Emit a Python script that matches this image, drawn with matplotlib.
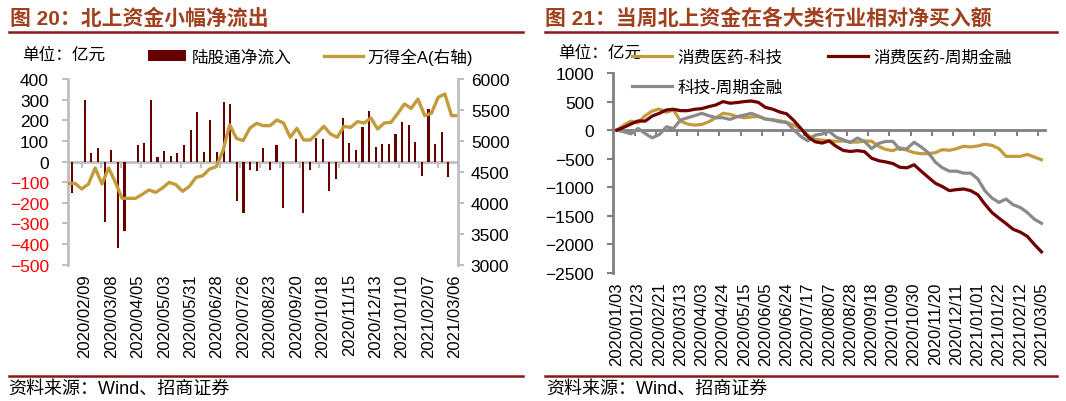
import matplotlib
matplotlib.use("Agg")
import matplotlib.pyplot as plt
from matplotlib.lines import Line2D
from matplotlib.patches import Patch

plt.rcParams['font.family'] = ['Liberation Sans', 'Noto Sans CJK SC']

# ---- 图20: 陆股通周度净流入(亿元) & 万得全A ----
flow_labels = ['2020/02/09', '2020/03/08', '2020/04/05', '2020/05/03', '2020/05/31',
               '2020/06/28', '2020/07/26', '2020/08/23', '2020/09/20', '2020/10/18',
               '2020/11/15', '2020/12/13', '2021/01/10', '2021/02/07', '2021/03/06']
north_flow = [-154, 0, 300, 42, 66, -291, 57, -418, -335, 0,
              81, 90, 300, 23, 52, 28, 42, 81, 154, 241,
              47, 202, 47, 290, 280, -189, -248, -39, -44, 66,
              -39, 81, -223, 0, 110, -248, -39, 115, 110, -141,
              -83, 212, 90, 57, 168, 246, 71, 86, 86, 134,
              193, 178, 96, -68, 256, 86, 144, -73, 0]
wind_all_a = [4314, 4314, 4223, 4304, 4562, 4304, 4562, 4330, 4072, 4072,
              4072, 4137, 4207, 4169, 4239, 4330, 4293, 4185, 4266, 4411,
              4438, 4546, 4584, 4842, 5262, 5041, 5004, 5205, 5284, 5246,
              5246, 5338, 5289, 5058, 5203, 5015, 5015, 5122, 5235, 5111,
              5058, 5235, 5219, 5311, 5289, 5370, 5192, 5289, 5300, 5445,
              5596, 5526, 5677, 5408, 5445, 5704, 5758, 5408, 5408]

# ---- 图21: 当周北上资金在各大类行业相对净买入额(累计, 亿元) ----
sector_labels = ['2020/01/03', '2020/01/23', '2020/02/21', '2020/03/13', '2020/04/03',
                 '2020/04/24', '2020/05/15', '2020/06/05', '2020/06/24', '2020/07/17',
                 '2020/08/07', '2020/08/28', '2020/09/18', '2020/10/09', '2020/10/30',
                 '2020/11/20', '2020/12/11', '2021/01/01', '2021/01/22', '2021/02/12',
                 '2021/03/05']
cons_minus_tech = [0, 88, 158, 129, 253, 335, 370, 312, 353, 159,
                   106, 88, 100, 147, 218, 294, 276, 235, 218, 230,
                   238, 194, 183, 165, 136, 89, 18, -88, -158, -175,
                   -185, -195, -190, -205, -210, -190, -195, -285, -338, -360,
                   -306, -353, -394, -412, -412, -394, -341, -353, -324, -282,
                   -294, -277, -247, -265, -324, -459, -459, -459, -424, -471,
                   -518]
cons_minus_cyc = [0, 50, 108, 161, 158, 247, 294, 353, 365, 341,
                  341, 365, 377, 412, 441, 500, 471, 483, 500, 510,
                  486, 398, 368, 318, 285, 170, 30, -115, -203, -226,
                  -188, -285, -356, -373, -359, -376, -491, -535, -556, -585,
                  -650, -659, -606, -718, -824, -929, -988, -1059, -1041, -1030,
                  -1059, -1130, -1294, -1441, -1541, -1635, -1735, -1783, -1859, -2000,
                  -2130]
tech_minus_cyc = [0, -29, -65, 29, -59, -135, -77, 59, 29, 176,
                  217, 253, 294, 253, 217, 217, 188, 235, 264, 294,
                  247, 194, 177, 147, 136, 6, -112, -188, -88, -68,
                  -20, -124, -168, -218, -138, -200, -323, -232, -197, -197,
                  -338, -324, -212, -294, -394, -559, -659, -718, -718, -753,
                  -753, -853, -1059, -1188, -1265, -1206, -1306, -1353, -1441, -1559,
                  -1630]

bar_color = '#660000'
gold = '#C49B3B'
maroon = '#700000'
grey_line = '#8A8A8A'
title_color = '#A0401E'
rule_color = '#8C1515'
W, H = 1066, 402


def fx(px):
    return px / W


def fy(py):
    return 1 - py / H


fig = plt.figure(figsize=(W / 100, H / 100), dpi=100)

# ================= 左图 =================
axis_grey = '#BFBFBF'
rect = [fx(68.3), fy(265.7), fx(458.3) - fx(68.3), fy(80) - fy(265.7)]
ax = fig.add_axes(rect)
n = len(north_flow)
ax.bar(range(n), north_flow, width=0.32, color=bar_color)
ax.set_xlim(-0.5, n - 0.5)
ax.set_ylim(-500, 400)
ax.set_yticks(range(-500, 401, 100))
for s in ['top', 'right', 'bottom']:
    ax.spines[s].set_visible(False)
ax.spines['left'].set_color(axis_grey)
ax.spines['left'].set_linewidth(2)
ax.tick_params(axis='y', length=4, width=1.5, color=axis_grey, pad=10, labelsize=12.5)
for val, lab in zip(ax.get_yticks(), ax.get_yticklabels()):
    if val < 0:
        lab.set_color('#FF0000')
ax.set_xticks(range(2, n, 4))
ax.set_xticklabels(flow_labels, rotation=90, fontsize=12)
ax.tick_params(axis='x', length=0, pad=6)

# 零轴及其刻度
zero_ax = ax.secondary_xaxis(5 / 9)
zero_ax.set_alignment('bottom')
zero_ax.set_xticks([b - 0.5 for b in range(2, n, 3)])
zero_ax.tick_params(length=4, width=1.5, color=axis_grey, labelbottom=False)
zero_ax.spines['bottom'].set_color(axis_grey)
zero_ax.spines['bottom'].set_linewidth(2)

# 右轴: 万得全A
ax2 = fig.add_axes(rect)
ax2.patch.set_visible(False)
ax2.plot(range(n), wind_all_a, color=gold, lw=2.4)
ax2.set_xlim(0, n - 1)
ax2.set_ylim(3000, 6000)
ax2.set_yticks(range(3000, 6001, 500))
ax2.xaxis.set_visible(False)
ax2.yaxis.tick_right()
for s in ['top', 'left', 'bottom']:
    ax2.spines[s].set_visible(False)
ax2.spines['right'].set_color(axis_grey)
ax2.spines['right'].set_linewidth(2)
ax2.tick_params(axis='y', length=4, width=1.5, color=axis_grey, pad=5, labelsize=12.5)

fig.text(fx(10), fy(18), '图 20：北上资金小幅净流出', fontsize=15, fontweight='bold',
         color=title_color, ha='left', va='center')
fig.add_artist(Line2D([fx(9), fx(523)], [fy(33), fy(33)], color=rule_color, lw=1.8))
fig.text(fx(22), fy(55), '单位：亿元', fontsize=12, ha='left', va='center')
fig.legend([Patch(facecolor=bar_color), Line2D([], [], color=gold, lw=2.4)],
           ['陆股通净流入', '万得全A(右轴)'], loc='center left',
           bbox_to_anchor=(fx(148), fy(57)), ncol=2, frameon=False, fontsize=12,
           handlelength=2.3, handleheight=0.6, handletextpad=0.3, columnspacing=2.0,
           borderpad=0, borderaxespad=0)
fig.add_artist(Line2D([fx(9), fx(523)], [fy(377), fy(377)], color=rule_color, lw=1.8))
fig.text(fx(8), fy(389), '资料来源：Wind、招商证券', fontsize=13, ha='left', va='center')

# ================= 右图 =================
axis_grey2 = '#808080'
bx = fig.add_axes([fx(613.3), fy(274), fx(1045) - fx(613.3), fy(74) - fy(274)])
m = len(cons_minus_tech)
bx.plot(range(m), cons_minus_tech, color=gold, lw=2.3, label='消费医药-科技')
bx.plot(range(m), tech_minus_cyc, color=grey_line, lw=2.3, label='科技-周期金融')
bx.plot(range(m), cons_minus_cyc, color=maroon, lw=2.3, label='消费医药-周期金融')
bx.set_xlim(-0.5, m - 0.5)
bx.set_ylim(-2500, 1000)
bx.set_yticks(range(-2500, 1001, 500))
for s in ['top', 'right', 'bottom']:
    bx.spines[s].set_visible(False)
bx.spines['left'].set_color(axis_grey2)
bx.spines['left'].set_linewidth(2)
bx.tick_params(axis='y', length=4, width=1.5, color=axis_grey2, pad=10, labelsize=12.5)
bx.set_xticks(range(0, m, 3))
bx.set_xticklabels(sector_labels, rotation=90, fontsize=12)
bx.tick_params(axis='x', length=0, pad=6)

zero_bx = bx.secondary_xaxis(2500 / 3500)
zero_bx.set_alignment('bottom')
zero_bx.set_xticks([b - 0.5 for b in range(3, m, 3)])
zero_bx.tick_params(length=4, width=1.5, color=axis_grey2, labelbottom=False)
zero_bx.spines['bottom'].set_color(axis_grey2)
zero_bx.spines['bottom'].set_linewidth(2)

fig.text(fx(545), fy(18), '图 21：当周北上资金在各大类行业相对净买入额', fontsize=15,
         fontweight='bold', color=title_color, ha='left', va='center')
fig.add_artist(Line2D([fx(545), fx(1057)], [fy(33), fy(33)], color=rule_color, lw=1.8))
fig.text(fx(558), fy(53), '单位：亿元', fontsize=12, ha='left', va='center')
fig.legend(*bx.get_legend_handles_labels(), loc='center left',
           bbox_to_anchor=(fx(632), fy(73)), ncol=2, frameon=False, fontsize=12,
           handlelength=2.4, handletextpad=0.35, columnspacing=2.7, labelspacing=0.85,
           borderpad=0, borderaxespad=0)
fig.add_artist(Line2D([fx(545), fx(1057)], [fy(377), fy(377)], color=rule_color, lw=1.8))
fig.text(fx(546), fy(389), '资料来源：Wind、招商证券', fontsize=13, ha='left', va='center')

fig.savefig('out.png', dpi=100)
